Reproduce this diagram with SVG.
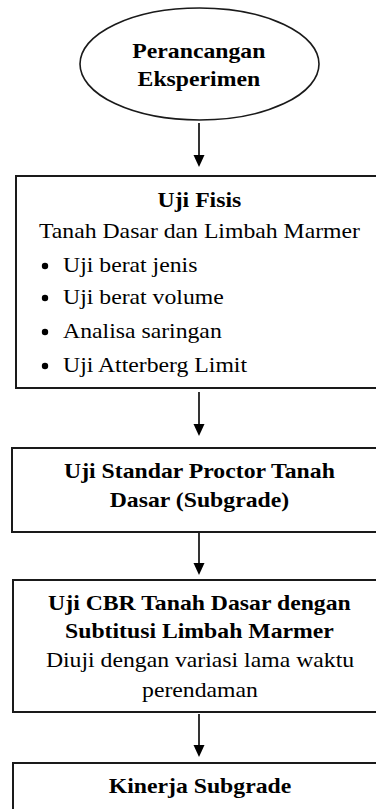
<svg xmlns="http://www.w3.org/2000/svg" width="376" height="809" viewBox="0 0 376 809">
  <style>
    .box { fill: #fff; stroke: #1a1a1a; stroke-width: 2; }
    .oval { fill: #fff; stroke: #1a1a1a; stroke-width: 1.6; }
    .edge { stroke: #000; stroke-width: 1.6; fill: none; }
    .head { fill: #000; }
    .t { font-family: 'Liberation Serif', Tinos, 'Times New Roman', 'DejaVu Serif', serif; font-size: 21px; fill: #000; }
    .b { font-weight: bold; }
    .c { text-anchor: middle; }
  </style>
  <rect width="376" height="809" fill="#fff"/>

  <!-- connectors -->
  <g id="connectors">
    <line class="edge" x1="199" y1="123" x2="199" y2="155"/>
    <path class="head" d="M193.5,155 L204.5,155 L199,167 Z"/>
    <line class="edge" x1="199" y1="392" x2="199" y2="424"/>
    <path class="head" d="M193.5,424 L204.5,424 L199,436 Z"/>
    <line class="edge" x1="199" y1="533" x2="199" y2="563"/>
    <path class="head" d="M193.5,563 L204.5,563 L199,575 Z"/>
    <line class="edge" x1="199" y1="714" x2="199" y2="745"/>
    <path class="head" d="M193.5,745 L204.5,745 L199,757 Z"/>
  </g>

  <!-- start -->
  <g id="start">
    <ellipse class="oval" cx="199.5" cy="64" rx="119.5" ry="56"/>
    <g transform="scale(1.13,1)">
      <text class="t b c" x="176" y="58">Perancangan</text>
      <text class="t b c" x="176" y="86">Eksperimen</text>
    </g>
  </g>

  <!-- physical tests -->
  <g id="uji-fisis">
    <rect class="box" x="16" y="176" width="380" height="212"/>
    <circle cx="45" cy="266" r="3.2" fill="#000"/>
    <circle cx="45" cy="298" r="3.2" fill="#000"/>
    <circle cx="45" cy="332" r="3.2" fill="#000"/>
    <circle cx="45" cy="366" r="3.2" fill="#000"/>
    <g transform="scale(1.13,1)">
      <text class="t b c" x="176.5" y="207">Uji Fisis</text>
      <text class="t" x="34.5" y="238">Tanah Dasar dan Limbah Marmer</text>
      <text class="t" x="55.8" y="272">Uji berat jenis</text>
      <text class="t" x="55.8" y="304">Uji berat volume</text>
      <text class="t" x="55.8" y="338">Analisa saringan</text>
      <text class="t" x="55.8" y="372">Uji Atterberg Limit</text>
    </g>
  </g>

  <!-- proctor test -->
  <g id="uji-proctor">
    <rect class="box" x="12" y="448" width="380" height="84"/>
    <g transform="scale(1.13,1)">
      <text class="t b c" x="176.5" y="478">Uji Standar Proctor Tanah</text>
      <text class="t b c" x="176.5" y="507">Dasar (Subgrade)</text>
    </g>
  </g>

  <!-- CBR test -->
  <g id="uji-cbr">
    <rect class="box" x="13" y="580" width="380" height="132"/>
    <g transform="scale(1.13,1)">
      <text class="t b c" x="176.5" y="610">Uji CBR Tanah Dasar dengan</text>
      <text class="t b c" x="176.5" y="638">Subtitusi Limbah Marmer</text>
      <text class="t c" x="177" y="667">Diuji dengan variasi lama waktu</text>
      <text class="t c" x="177" y="697">perendaman</text>
    </g>
  </g>

  <!-- result -->
  <g id="kinerja">
    <rect class="box" x="13" y="763" width="380" height="80"/>
    <g transform="scale(1.13,1)">
      <text class="t b c" x="177" y="793">Kinerja Subgrade</text>
    </g>
  </g>
</svg>
